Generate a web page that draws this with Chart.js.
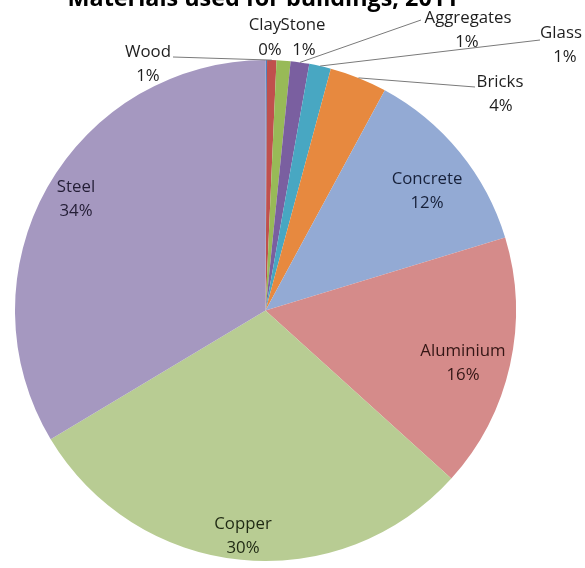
<!DOCTYPE html>
<html>
<head>
<meta charset="utf-8">
<script src="https://cdn.jsdelivr.net/npm/chart.js@4/dist/chart.umd.min.js"></script>
<style>
  html, body { margin: 0; padding: 0; background: #ffffff; }
  #wrap { position: relative; width: 585px; height: 568px; overflow: hidden; }
</style>
</head>
<body>
<div id="wrap"><canvas id="c" width="585" height="568"></canvas></div>
<script>
// ---- data ----
const chartTitle = "Materials used for buildings, 2011";
const categories = ["Clay", "Wood", "Stone", "Aggregates", "Glass", "Bricks", "Concrete", "Aluminium", "Copper", "Steel"];
const shares = [0.1, 0.6, 0.9, 1.2, 1.4, 3.7, 12.4, 16.4, 29.7, 33.6];
const sliceColors = ["#4F81BD", "#C0504D", "#98BA57", "#7A5FA0", "#48A7C2", "#E7893F", "#93AAD4", "#D58B8A", "#B8CC93", "#A598C0"];

// ---- label layout (styles / positions, not data) ----
const FONT = "'Open Sans', 'Liberation Sans', sans-serif";
const LABEL_SIZE = 16.8;
const LINE_GAP = 24;
// inside labels: block centre, text colour
const insideLabels = {
  "Concrete": { x: 427, y: 191, color: "#17213A" },
  "Aluminium": { x: 463, y: 363, color: "#341615" },
  "Copper": { x: 243, y: 536, color: "#1F2913" },
  "Steel": { x: 76, y: 199, color: "#241E36" }
};
// outside labels: block centre x, first-line y, optional leader start
const outsideLabels = {
  "Clay": { x: 265, y: 25, x2: 270 },
  "Stone": { x: 303, y: 25, x2: 304 },
  "Wood": { x: 148, y: 52, x2: 148, lead: [173, 57] },
  "Aggregates": { x: 468, y: 18, x2: 467, lead: [421, 20] },
  "Glass": { x: 561, y: 33, x2: 565, lead: [540, 40] },
  "Bricks": { x: 500, y: 82, x2: 501, lead: [475, 87] }
};

const total = shares.reduce((a, b) => a + b, 0);
const pctText = v => Math.round(v / total * 100) + "%";

const labelPlugin = {
  id: "labelPlugin",
  afterDraw(chart) {
    const ctx = chart.ctx;
    const meta = chart.getDatasetMeta(0);
    ctx.save();
    // title (partly cropped at the top edge, as in the reference)
    let ts = 24;
    ctx.font = "bold " + ts + "px " + FONT;
    const w = ctx.measureText(chartTitle).width;
    ts = ts * 391 / w;
    ctx.font = "bold " + ts.toFixed(2) + "px " + FONT;
    ctx.fillStyle = "#000000";
    ctx.textAlign = "center";
    ctx.textBaseline = "alphabetic";
    ctx.fillText(chartTitle, 263, 6);

    ctx.font = LABEL_SIZE + "px " + FONT;
    ctx.textBaseline = "middle";
    categories.forEach((name, i) => {
      const arc = meta.data[i];
      const mid = (arc.startAngle + arc.endAngle) / 2;
      const pct = pctText(shares[i]);
      if (insideLabels[name]) {
        const cfg = insideLabels[name];
        ctx.fillStyle = cfg.color;
        ctx.fillText(name, cfg.x, cfg.y - LINE_GAP / 2);
        ctx.fillText(pct, cfg.x, cfg.y + LINE_GAP / 2);
      } else if (outsideLabels[name]) {
        const cfg = outsideLabels[name];
        if (cfg.lead) {
          const ex = arc.x + Math.cos(mid) * arc.outerRadius;
          const ey = arc.y + Math.sin(mid) * arc.outerRadius;
          ctx.strokeStyle = "#7A7A7A";
          ctx.lineWidth = 1;
          ctx.beginPath();
          ctx.moveTo(cfg.lead[0], cfg.lead[1]);
          ctx.lineTo(ex, ey);
          ctx.stroke();
        }
        ctx.fillStyle = "#1E1E1E";
        ctx.fillText(name, cfg.x, cfg.y);
        ctx.fillText(pct, cfg.x2, cfg.y + LINE_GAP + (name === "Clay" || name === "Stone" ? 1 : 0));
      }
    });
    ctx.restore();
  }
};

new Chart(document.getElementById("c"), {
  type: "pie",
  data: {
    labels: categories,
    datasets: [{
      data: shares,
      backgroundColor: sliceColors,
      borderWidth: 0
    }]
  },
  options: {
    responsive: false,
    animation: false,
    layout: { padding: { left: 14, right: 68, top: 60, bottom: 7 } },
    plugins: {
      legend: { display: false },
      tooltip: { enabled: false },
      title: { display: false }
    }
  },
  plugins: [labelPlugin]
});
</script>
</body>
</html>
